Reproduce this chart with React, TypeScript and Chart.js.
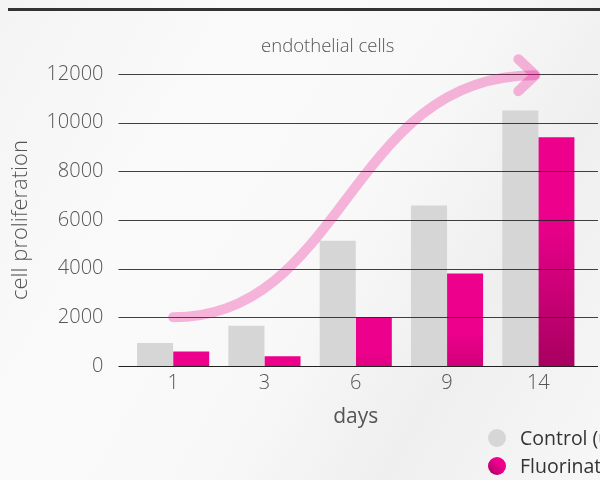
import React, { useEffect, useRef } from "react";
import { Chart, registerables } from "chart.js";

Chart.register(...registerables);

const categories = ["1", "3", "6", "9", "14"];
const controlValues = [950, 1650, 5150, 6600, 10500];
const fluorinatedValues = [600, 400, 2000, 3800, 9400];
const yTicks = [0, 2000, 4000, 6000, 8000, 10000, 12000];
const seriesLabels = ["Control (untreated)", "Fluorinated graphene"];
const chartTitle = "endothelial cells";
const xTitle = "days";
const yTitle = "cell proliferation";

const FONT = "'Open Sans', 'DejaVu Sans', sans-serif";
const GRAY = "#d6d6d6";
const PINK = "#ec008c";
const PINK_DARK = "#a4005e";

function pinkGradient(ctx: any) {
  const chart = ctx.chart;
  const area = chart.chartArea;
  if (!area) return PINK;
  const y = chart.scales.y;
  const v = fluorinatedValues[ctx.dataIndex] ?? 0;
  const top = y.getPixelForValue(v);
  const base = y.getPixelForValue(0);
  const frac = Math.min(1, v / 9400);
  const g = chart.ctx.createLinearGradient(0, top, 0, base);
  g.addColorStop(0, PINK);
  g.addColorStop(Math.max(0, 1 - 0.5 * frac - 0.15), PINK);
  const r = Math.round(0xec + (0xa8 - 0xec) * frac);
  const b = Math.round(0x8c + (0x60 - 0x8c) * frac);
  g.addColorStop(1, `rgb(${r},0,${b})`);
  return g;
}

const overlayPlugin = {
  id: "overlay",
  afterDatasetsDraw(chart: any) {
    const { ctx, chartArea, scales } = chart;
    const y = scales.y;
    const x = scales.x;
    ctx.save();
    const gl = chartArea.left - 9;
    const gr = chart.width - 2;
    yTicks.forEach((t) => {
      const py = Math.round(y.getPixelForValue(t)) + 0.5;
      ctx.strokeStyle = t === 0 ? "#222" : "rgba(30,30,30,0.85)";
      ctx.lineWidth = 1.2;
      ctx.beginPath();
      ctx.moveTo(gl, py);
      ctx.lineTo(gr, py);
      ctx.stroke();
    });
    const x0 = x.getPixelForValue(0);
    const x1 = x.getPixelForValue(categories.length - 1);
    const y0 = y.getPixelForValue(2000);
    const y1 = y.getPixelForValue(11950);
    const w = x1 - x0;
    ctx.strokeStyle = "rgba(236,0,140,0.28)";
    ctx.lineWidth = 10;
    ctx.lineCap = "round";
    ctx.lineJoin = "round";
    ctx.beginPath();
    ctx.moveTo(x0, y0);
    ctx.bezierCurveTo(x0 + w * 0.47, y0, x0 + w * 0.48, y1, x1 - 4, y1);
    ctx.stroke();
    ctx.beginPath();
    ctx.moveTo(x1 - 20, y1 - 16);
    ctx.lineTo(x1 - 3, y1);
    ctx.lineTo(x1 - 20, y1 + 16);
    ctx.stroke();
    ctx.restore();
  },
  afterDraw(chart: any) {
    const { ctx, chartArea } = chart;
    ctx.save();
    ctx.fillStyle = "#555";
    ctx.font = `300 18.5px ${FONT}`;
    ctx.textAlign = "center";
    ctx.textBaseline = "middle";
    ctx.fillText(chartTitle, (chartArea.left + chartArea.right) / 2 - 28, 47);
    ctx.font = `400 19.5px ${FONT}`;
    ctx.textAlign = "left";
    seriesLabels.forEach((lab, i) => {
      const cy = 438 + i * 28;
      ctx.beginPath();
      ctx.arc(497, cy, 9, 0, Math.PI * 2);
      if (i === 1) {
        const g = ctx.createLinearGradient(488, cy + 9, 506, cy - 9);
        g.addColorStop(0, PINK_DARK);
        g.addColorStop(0.6, PINK);
        ctx.fillStyle = g;
      } else {
        ctx.fillStyle = GRAY;
      }
      ctx.fill();
      ctx.fillStyle = "#333";
      ctx.fillText(lab, 520, cy + 1);
    });
    ctx.restore();
  },
};

export default function App() {
  const ref = useRef<HTMLCanvasElement | null>(null);
  useEffect(() => {
    if (!ref.current) return;
    const chart = new Chart(ref.current, {
      type: "bar",
      data: {
        labels: categories,
        datasets: [
          {
            label: seriesLabels[0],
            data: controlValues,
            backgroundColor: GRAY,
            categoryPercentage: 0.79,
            barPercentage: 1,
          },
          {
            label: seriesLabels[1],
            data: fluorinatedValues,
            backgroundColor: pinkGradient as any,
            categoryPercentage: 0.79,
            barPercentage: 1,
          },
        ],
      },
      options: {
        animation: false,
        responsive: false,
        maintainAspectRatio: false,
        layout: { padding: { left: 0, right: 16, top: 74, bottom: 50 } },
        plugins: {
          legend: { display: false },
          tooltip: { enabled: false },
          title: { display: false },
        },
        scales: {
          x: {
            grid: { display: false, drawTicks: false },
            border: { display: false },
            ticks: {
              color: "#555",
              font: { family: FONT, size: 20, weight: "300" as any },
              padding: 5,
            },
            title: {
              display: true,
              text: xTitle,
              color: "#555",
              font: { family: FONT, size: 21, weight: "400" as any },
              padding: { top: 2, bottom: 0 },
            },
            afterFit: (s: any) => {
              s.height = 64;
            },
          },
          y: {
            min: 0,
            max: 12000,
            afterBuildTicks: (s: any) => {
              s.ticks = yTicks.map((v) => ({ value: v }));
            },
            grid: { display: false, drawTicks: false },
            border: { display: false },
            ticks: {
              color: "#555",
              font: { family: FONT, size: 20, weight: "300" as any },
              padding: 24,
              callback: (v: any) => String(v),
            },
            title: {
              display: true,
              text: yTitle,
              color: "#555",
              font: { family: FONT, size: 22, weight: "300" as any },
              padding: { top: 8, bottom: 0 },
            },
            afterFit: (s: any) => {
              s.width = 127.5;
            },
          },
        },
      },
      plugins: [overlayPlugin],
    });
    return () => chart.destroy();
  }, []);

  return (
    <div
      style={{
        position: "fixed",
        left: 0,
        top: 0,
        width: 600,
        height: 480,
        overflow: "hidden",
        background:
          "linear-gradient(120deg, #f4f4f4 0%, #fafafa 30%, #f8f8f8 55%, #efefef 75%, #f7f7f7 100%)",
      }}
    >
      <div
        style={{
          position: "absolute",
          left: 8,
          right: 0,
          top: 8,
          height: 3,
          background: "#333",
        }}
      />
      <canvas
        ref={ref}
        width={600}
        height={480}
        style={{ position: "absolute", left: 0, top: 0, width: 600, height: 480 }}
      />
    </div>
  );
}
